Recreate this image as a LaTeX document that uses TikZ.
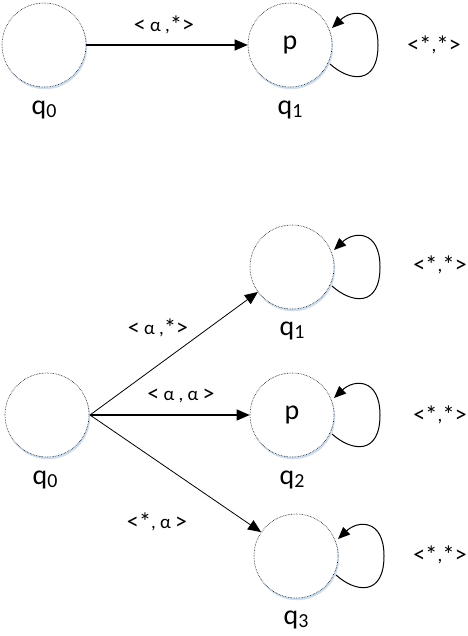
\documentclass[tikz,border=0pt]{standalone}
\usepackage{fontspec}
\setmainfont{Carlito}
\usetikzlibrary{arrows.meta,calc}
\tikzset{
  state/.style={circle,minimum size=84bp,inner sep=0pt,draw=black,densely dotted,line width=0.6bp,fill=white,font=\fontsize{28}{28}\selectfont},
  shadowring/.style={draw={rgb,255:red,205;green,222;blue,240},line width=2.5bp},
  statename/.style={font=\fontsize{28}{28}\selectfont,inner sep=0pt},
  elabel/.style={font=\fontsize{19}{19}\selectfont,inner sep=0pt},
  edge/.style={-{Triangle[length=13bp,width=11bp]},line width=1.1bp},
  loopline/.style={-{Triangle[length=12bp,width=10bp]},line width=1bp}
}
\newcommand{\qsub}[1]{q{\fontsize{20}{20}\selectfont\raisebox{-3bp}{#1}}}
\newcommand{\LT}{{\fontsize{24}{24}\selectfont\raisebox{-0.5bp}{<}}}
\newcommand{\GT}{{\fontsize{24}{24}\selectfont\raisebox{-0.5bp}{>}}}
\newcommand{\ST}{{\fontsize{25}{25}\selectfont\raisebox{-1.5bp}{*}}}
\newcommand{\selfloop}[1]{%
  \draw[loopline] ($(#1.center)+(40,19)$) .. controls ($(#1.center)+(60,37)$) and ($(#1.center)+(88,40)$) .. ($(#1.center)+(88,0)$) .. controls ($(#1.center)+(88,-37)$) and ($(#1.center)+(62,-36)$) .. ($(#1.center)+(42,-17)$);}
\begin{document}
\begin{tikzpicture}[x=1bp,y=-1bp]
\useasboundingbox (0,0) rectangle (468,636);
% shadows
\foreach \p in {(44,45),(290,45),(47,415),(292,267),(292,415),(296,556)}{
  \draw[shadowring] \p ++(1,2) circle (41bp);
}
% top
\node[state] (a0) at (44,45) {};
\node[state] (a1) at (290,45) {p};
\node[statename] (la0) at (44,110) {\qsub{0}};
\node[statename] (la1) at (290,110) {\qsub{1}};
\draw[edge] (a0) -- (a1);
\node[elabel] (ea) at (164,25) {\LT{} α ,\ST\GT};
\selfloop{a1}
\node[elabel] (ela) at (434,45) {\LT\ST,\ST\GT};
% bottom
\node[state] (b0) at (47,415) {};
\node[state] (b1) at (292,267) {};
\node[state] (b2) at (292,415) {p};
\node[state] (b3) at (296,556) {};
\node[statename] (lb0) at (45,480) {\qsub{0}};
\node[statename] (lb1) at (292,331) {\qsub{1}};
\node[statename] (lb2) at (292,480) {\qsub{2}};
\node[statename] (lb3) at (296,620) {\qsub{3}};
\coordinate (src) at (90,415);
\draw[edge,line width=0.8bp] (src) -- (b1);
\draw[edge] (src) -- (b2);
\draw[edge,line width=0.8bp] (src) -- (b3);
\node[elabel] (eb1) at (158,328) {\LT{} α ,\ST\GT};
\node[elabel] (eb2) at (181,396) {\LT{} α , α \GT};
\node[elabel] (eb3) at (157,522) {\LT\ST, α \GT};
\selfloop{b1}
\selfloop{b2}
\selfloop{b3}
\node[elabel] (lo1) at (440,265) {\LT\ST,\ST\GT};
\node[elabel] (lo2) at (440,415) {\LT\ST,\ST\GT};
\node[elabel] (lo3) at (440,555) {\LT\ST,\ST\GT};
\end{tikzpicture}
\end{document}
